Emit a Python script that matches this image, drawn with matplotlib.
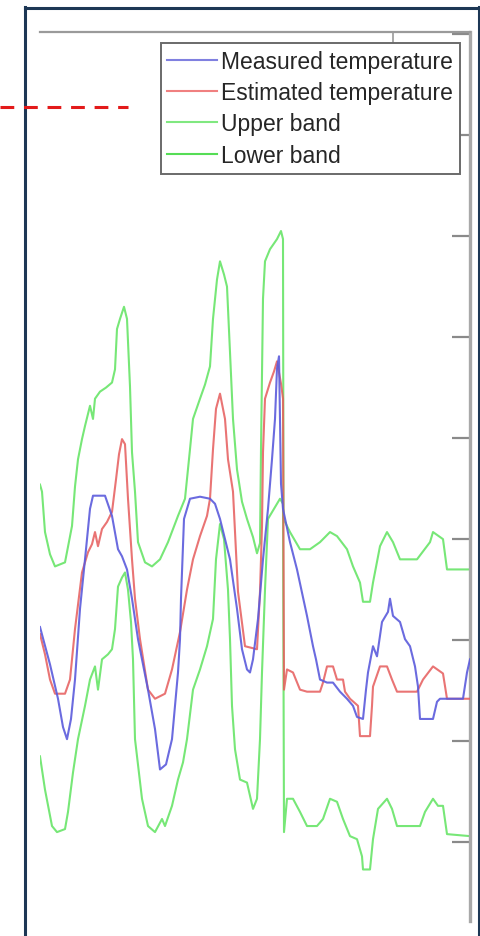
import matplotlib
matplotlib.use("Agg")
import matplotlib.pyplot as plt
from matplotlib.lines import Line2D

# ---------------- data ----------------
meas_x = [0, 10, 18, 23, 27, 31, 35, 40, 45, 50, 53, 60, 65, 72, 78, 82, 87, 92, 98, 108,
          115, 120, 126, 132, 138, 140, 141, 144, 150, 160, 170, 175, 180, 190, 197, 202,
          207, 210, 213, 218, 223, 228, 232, 235, 237, 239, 241, 243, 250, 257, 267, 273,
          276, 280, 287, 293, 300, 307, 313, 317, 323, 326, 328, 333, 337, 342, 348, 350,
          353, 360, 365, 370, 375, 378, 380, 393, 397, 400, 423, 427, 430]
meas_y = [31.3, 27.6, 24.2, 21.4, 20.2, 22.2, 26.1, 33.1, 38.0, 43.0, 44.3, 44.3, 44.3, 42.3,
          39.0, 38.3, 37.0, 34.1, 30.1, 25.1, 21.2, 17.2, 17.7, 20.2, 26.8, 30.1, 34.1, 42.0,
          44.0, 44.2, 44.0, 43.5, 42.0, 38.0, 33.1, 29.1, 27.1, 26.8, 28.1, 32.1, 38.0, 43.0,
          47.9, 51.9, 56.9, 58.1, 45.5, 43.0, 39.7, 37.0, 32.4, 29.4, 28.1, 26.1, 25.8, 25.8,
          24.9, 24.2, 23.5, 22.4, 22.2, 25.1, 26.8, 29.4, 28.4, 31.8, 32.8, 34.1, 32.4, 31.8,
          30.1, 29.4, 27.4, 25.4, 22.2, 22.2, 23.9, 24.2, 24.2, 26.8, 28.1]

est_x = [0, 5, 10, 15, 25, 30, 35, 42, 48, 52, 55, 58, 62, 67, 72, 76, 79, 82, 85, 88, 92,
         95, 100, 108, 115, 125, 132, 140, 147, 153, 160, 167, 170, 173, 176, 180, 185, 188,
         193, 198, 205, 217, 220, 222, 223, 225, 230, 234, 237, 241, 243, 244, 247, 253, 260,
         267, 280, 283, 287, 293, 297, 303, 305, 310, 318, 320, 330, 332, 333, 340, 347, 352,
         357, 377, 383, 393, 403, 407, 430]
est_y = [30.6, 28.6, 26.1, 24.7, 24.7, 26.1, 31.1, 36.7, 38.7, 39.5, 40.7, 39.3, 41.0, 41.7,
         42.7, 45.9, 48.4, 49.9, 49.4, 44.0, 38.0, 34.1, 30.1, 25.1, 24.2, 24.7, 27.1, 30.8,
         35.0, 38.0, 40.3, 42.3, 44.0, 48.9, 52.9, 54.4, 51.9, 47.9, 44.7, 34.8, 29.4, 29.1,
         34.8, 41.3, 48.6, 53.9, 55.5, 56.6, 57.6, 55.4, 53.9, 25.1, 27.1, 26.8, 25.1, 24.9,
         24.9, 25.8, 27.4, 27.4, 26.1, 26.1, 24.9, 24.2, 23.5, 20.5, 20.5, 23.5, 25.4, 27.4,
         27.4, 26.1, 24.9, 24.9, 26.1, 27.4, 26.7, 24.2, 24.2]

up_x = [0, 2, 5, 10, 15, 25, 32, 35, 38, 42, 45, 48, 50, 53, 55, 60, 66, 72, 75, 77, 80, 84,
        87, 90, 92, 95, 98, 105, 112, 120, 128, 138, 145, 150, 153, 160, 165, 170, 173, 177,
        180, 184, 187, 190, 193, 197, 202, 207, 213, 217, 220, 221, 223, 225, 230, 237, 241,
        243, 243.5, 250, 260, 270, 280, 290, 297, 307, 313, 320, 323, 330, 333, 340, 347,
        353, 360, 377, 390, 393, 403, 407, 430]
up_y = [45.4, 44.7, 40.7, 38.5, 37.3, 37.7, 41.3, 45.2, 47.9, 49.9, 51.2, 52.4, 53.2, 51.9,
        53.9, 54.6, 55.0, 55.5, 56.8, 60.8, 61.8, 63.0, 61.8, 55.1, 48.6, 44.7, 39.7, 37.7,
        37.3, 38.0, 39.7, 42.3, 44.0, 48.9, 51.9, 53.9, 55.3, 57.1, 61.8, 65.7, 67.5, 66.2,
        65.0, 58.5, 51.9, 46.9, 43.7, 42.0, 40.2, 38.6, 39.6, 48.9, 63.8, 67.5, 68.7, 69.7,
        70.5, 69.7, 42.0, 40.7, 39.0, 39.0, 39.7, 40.7, 40.3, 39.0, 37.3, 35.7, 33.8, 33.8,
        35.7, 39.3, 40.7, 39.7, 38.0, 38.0, 39.7, 40.7, 40.0, 37.0, 37.0]

low_x = [0, 5, 12, 17, 25, 28, 33, 38, 45, 50, 55, 58, 62, 68, 72, 75, 78, 82, 85, 88, 91, 93,
         95, 102, 108, 115, 122, 125, 132, 138, 143, 147, 153, 160, 167, 173, 176, 180, 184,
         188, 190, 192, 195, 200, 207, 213, 217, 220, 222, 225, 228, 240, 243, 244, 247, 253,
         260, 267, 277, 283, 290, 297, 303, 310, 317, 322, 323, 330, 333, 338, 347, 352, 357,
         380, 385, 393, 398, 403, 407, 430]
low_y = [18.5, 15.2, 11.6, 11.0, 11.3, 13.0, 16.9, 20.2, 23.5, 26.1, 27.4, 25.1, 28.1, 28.6,
         29.1, 31.1, 35.3, 36.2, 36.7, 35.0, 31.8, 28.1, 20.2, 14.3, 11.6, 11.0, 12.3, 11.6,
         13.6, 16.2, 17.9, 20.2, 25.1, 27.1, 29.4, 32.1, 38.0, 41.5, 40.0, 35.0, 30.1, 23.5,
         19.2, 16.2, 15.9, 13.3, 14.3, 20.2, 26.8, 35.0, 42.0, 44.0, 43.5, 11.0, 14.3, 14.3,
         13.0, 11.6, 11.6, 12.3, 14.3, 14.0, 12.3, 10.6, 10.3, 8.6, 7.3, 7.3, 10.3, 13.3,
         14.3, 13.3, 11.6, 11.6, 13.0, 14.3, 13.6, 13.6, 10.8, 10.6]

labels = ["Measured temperature", "Estimated temperature", "Upper band", "Lower band"]
y_ticks = [10, 20, 30, 40, 50, 60, 70, 80, 90]
x_ticks = [353]

# ---------------- figure ----------------
W, H = 481, 937
fig = plt.figure(figsize=(W / 100, H / 100), dpi=100)
fig.patch.set_facecolor("white")

ax = fig.add_axes([40 / W, 1 - 922 / H, 430 / W, (922 - 33) / H])
ax.set_xlim(0, 430)
ax.set_ylim(2.2, 90.2)

c_blue = "#5b5bdc"
c_red = "#e65c5c"
c_green = "#5fe35f"
lw = 1.5
ax.plot(meas_x, meas_y, color=c_blue, lw=lw, alpha=0.9, zorder=4)
ax.plot(est_x, est_y, color=c_red, lw=lw, alpha=0.85, zorder=3)
ax.plot(up_x, up_y, color=c_green, lw=lw, alpha=0.85, zorder=2)
ax.plot(low_x, low_y, color=c_green, lw=lw, alpha=0.85, zorder=2)

for s in ["left", "bottom"]:
    ax.spines[s].set_visible(False)
ax.spines["top"].set_color("#9a9a9a")
ax.spines["top"].set_linewidth(1.6)
ax.spines["right"].set_color("#a8a8a8")
ax.spines["right"].set_linewidth(2.4)

ax.yaxis.tick_right()
ax.set_yticks(y_ticks)
ax.set_yticklabels([])
ax.tick_params(axis="y", direction="in", length=13, width=1.6, color="#8a8a8a")
ax.xaxis.tick_top()
ax.set_xticks(x_ticks)
ax.set_xticklabels([])
ax.tick_params(axis="x", direction="in", length=10, width=1.2, color="#9a9a9a")

handles = [Line2D([], [], color="#8080e0", lw=1.5),
           Line2D([], [], color="#f08080", lw=1.5),
           Line2D([], [], color="#80e880", lw=1.5),
           Line2D([], [], color="#55dd55", lw=1.5)]
leg = ax.legend(handles, labels, loc="upper right", bbox_to_anchor=(420 / 430, (922 - 44) / 889),
                borderaxespad=0, fancybox=False, framealpha=1, edgecolor="#6a6a6a",
                prop={"family": "Liberation Sans", "size": 16.5}, handlelength=2.15,
                handletextpad=0.2, labelspacing=0.36, borderpad=0.3)
leg.get_frame().set_linewidth(1.4)
for t in leg.get_texts():
    t.set_color("#262626")

# outer navy frame
frame_col = "#1d3755"
fig.add_artist(Line2D([24.5 / W, 24.5 / W], [0, 1 - 8 / H], color=frame_col, lw=2.2,
                      transform=fig.transFigure))
fig.add_artist(Line2D([24.5 / W, 479.5 / W], [1 - 8.5 / H, 1 - 8.5 / H], color=frame_col, lw=2.2,
                      transform=fig.transFigure))
fig.add_artist(Line2D([479.5 / W, 479.5 / W], [0, 1 - 8 / H], color=frame_col, lw=2.2,
                      transform=fig.transFigure))

# red dashed marker at upper left
fig.add_artist(Line2D([0, 128 / W], [1 - 108 / H, 1 - 108 / H], color="#e31a1a", lw=2.2,
                      dashes=(4.5, 3.2), transform=fig.transFigure))

fig.savefig("out.png", dpi=100)
